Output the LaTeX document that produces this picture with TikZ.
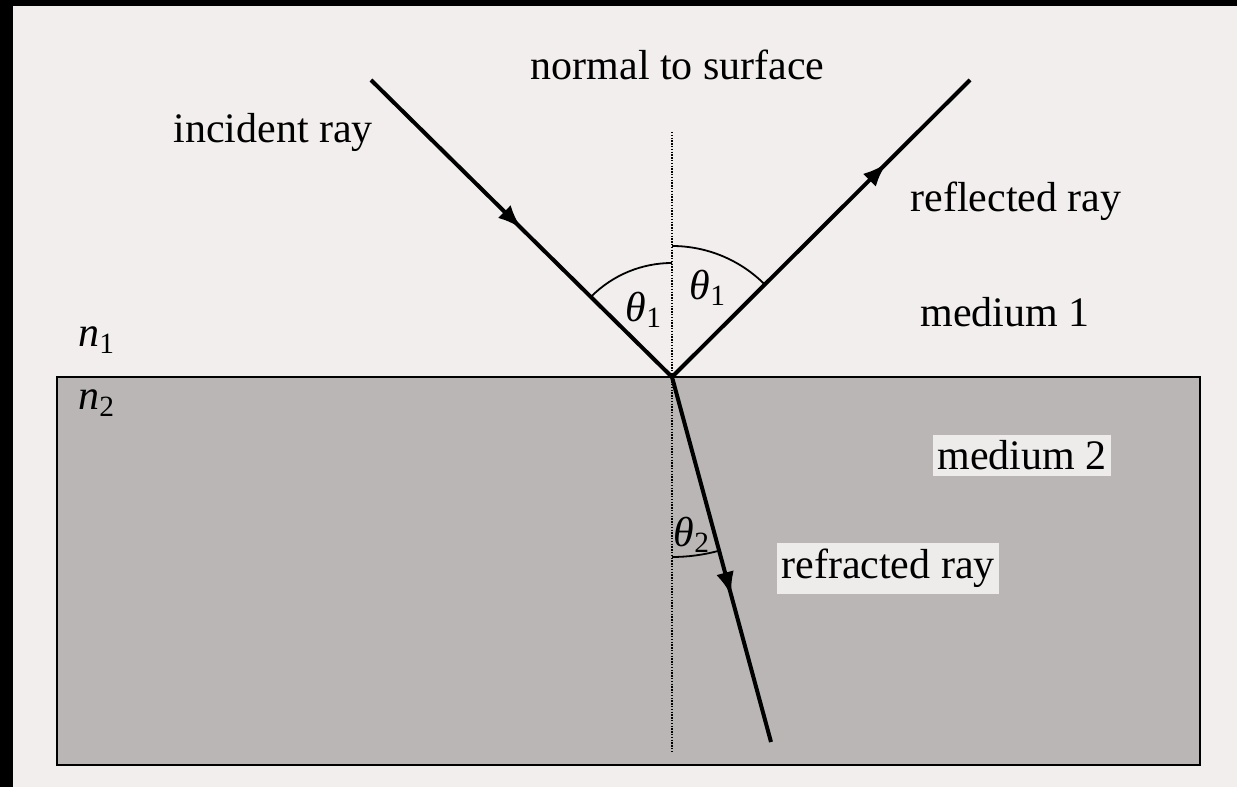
\documentclass[tikz,border=0pt]{standalone}
\usepackage{fontspec}
\setmainfont{Liberation Serif}
\usepackage{tikz}
\usetikzlibrary{arrows.meta,decorations.markings}
\definecolor{paper}{RGB}{242,238,238}
\definecolor{glass}{RGB}{186,182,182}
\definecolor{tag}{RGB}{238,235,235}

\begin{document}
\begin{tikzpicture}[
  x=0.5pt, y=0.5pt,
  font=\fontsize{21}{25}\selectfont,
  ray/.style={line width=2pt, postaction={decorate}, decoration={markings,
              mark=at position #1 with {\arrow{Latex[length=12pt,width=9pt]}}}},
  txt/.style={inner sep=0pt, anchor=base west},
  tagbox/.style={fill=tag, inner xsep=2pt, inner ysep=3pt, anchor=base west},
  sym/.style={inner sep=0pt},
  anglearc/.style={line width=0.9pt},
  normline/.style={line width=0.8pt, dash pattern=on 0.7pt off 0.7pt},
  slab/.style={fill=glass, draw=black, line width=1.4pt},
]
% page and scan edges
\useasboundingbox (0,0) rectangle (1237,787);
\fill[paper] (0,0) rectangle (1237,787);
\fill[black] (0,0) rectangle (13,787);
\fill[black] (0,781) rectangle (1237,787);

% medium 2
\draw[slab] (57,22) rectangle (1200,410);

\coordinate (hit) at (672,410);
\coordinate (src) at (371,707);
\coordinate (refl) at (970,707);
\coordinate (deep) at (771,45);
\coordinate (ntop) at (672,655);
\coordinate (nbot) at (672,35);

\draw[normline] (ntop) -- (nbot);

% rays
\draw[ray=0.5] (src) -- (hit);
\draw[ray=0.72] (hit) -- (refl);
\draw[ray=0.6] (hit) -- (deep);

% angles
\draw[anglearc] (hit) ++(90:114) arc[start angle=90, end angle=135, radius=114];
\draw[anglearc] (hit) ++(45:131) arc[start angle=45, end angle=90, radius=131];
\draw[anglearc] (hit) ++(270:180) arc[start angle=270, end angle=285.2, radius=180];

% labels
\node[txt, anchor=base east] (normtxt) at (825,707) {normal to surface};
\node[txt] (inctxt) at (173,644) {incident ray};
\node[txt] (refltxt) at (910,575) {reflected ray};
\node[txt] (med1) at (920,460) {medium 1};
\node[tagbox] (med2) at (933,317) {medium 2};
\node[tagbox] (refrtxt) at (777,208) {refracted ray};
\node[txt] (n1) at (78,440) {\textit{n}\textsubscript{1}};
\node[txt] (n2) at (78,377) {\textit{n}\textsubscript{2}};
\node[sym] (th1l) at (644,477) {\textit{θ}\textsubscript{1}};
\node[sym] (th1r) at (708,499) {\textit{θ}\textsubscript{1}};
\node[sym] (th2) at (692,252) {\textit{θ}\textsubscript{2}};
\end{tikzpicture}
\end{document}
